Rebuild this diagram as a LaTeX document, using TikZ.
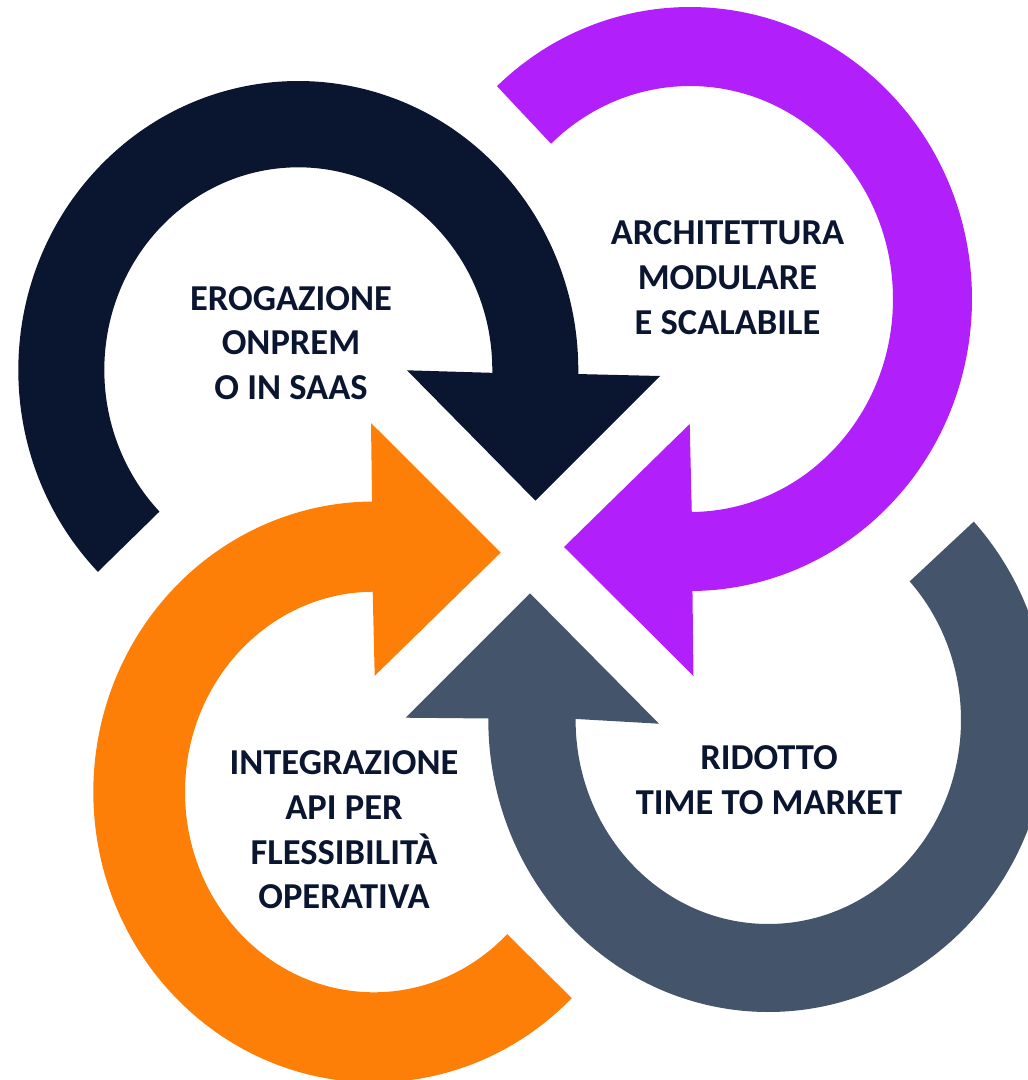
\documentclass[tikz,border=0pt]{standalone}
\usepackage{fontspec}
\setmainfont{Carlito}
\definecolor{navy}{HTML}{0A1530}
\definecolor{vio}{HTML}{B11FFA}
\definecolor{slate}{HTML}{44546A}
\definecolor{orng}{HTML}{FE7F07}
\begin{document}
\begin{tikzpicture}[x=1pt,y=-1pt,
  lbl/.style={text=navy, font=\bfseries\fontsize{36.5}{44.7}\selectfont, align=center, inner sep=0pt}]
\useasboundingbox (0,0) rectangle (1028,1080);
% navy arrow (top-left)
\fill[navy] ([shift={(298.3,370)}]135.7:280 and 289)
  arc[start angle=135.7, end angle=360.8, x radius=280, y radius=289]
  -- (660,376) -- (535.5,500.7) -- (407,370.3)
  -- ([shift={(298.3,370)}]360.8:194 and 202.7)
  arc[start angle=360.8, end angle=135.7, x radius=194, y radius=202.7] -- cycle;
% purple arrow (top-right)
\fill[vio] ([shift={(690,299)}]226.8:282 and 292)
  arc[start angle=226.8, end angle=449.5, x radius=282, y radius=292]
  -- (693.5,676) -- (564,547) -- (689.7,424)
  -- ([shift={(690,299)}]449.5:203 and 213)
  arc[start angle=449.5, end angle=226.8, x radius=203, y radius=213] -- cycle;
% slate arrow (bottom-right)
\fill[slate] ([shift={(768.3,720)}]-42.8:280 and 292)
  arc[start angle=-42.8, end angle=180.3, x radius=280, y radius=292]
  -- (405.6,717.7) -- (530,593.3) -- (659,723.7)
  -- ([shift={(768.3,720)}]180.3:192.7 and 204)
  arc[start angle=180.3, end angle=-42.8, x radius=192.7, y radius=204] -- cycle;
% orange arrow (bottom-left)
\fill[orng] ([shift={(374,792)}]45.2:280.7 and 290.5)
  arc[start angle=45.2, end angle=269.6, x radius=280.7, y radius=290.5]
  -- (371,423) -- (500.7,552.6) -- (374.7,675.8)
  -- ([shift={(374,792)}]269.6:189 and 200.3)
  arc[start angle=269.6, end angle=45.2, x radius=189, y radius=200.3] -- cycle;
% labels
\node[lbl] (t1) at (291,343) {EROGAZIONE\\ONPREM\\O IN SAAS};
\node[lbl] (t2) at (727.5,277.7) {ARCHITETTURA\\MODULARE\\E SCALABILE};
\node[lbl] (t3) at (769,780) {RIDOTTO\\TIME TO MARKET};
\node[lbl] (t4) at (344,830) {INTEGRAZIONE\\API PER\\FLESSIBILITÀ\\OPERATIVA};
\end{tikzpicture}
\end{document}
